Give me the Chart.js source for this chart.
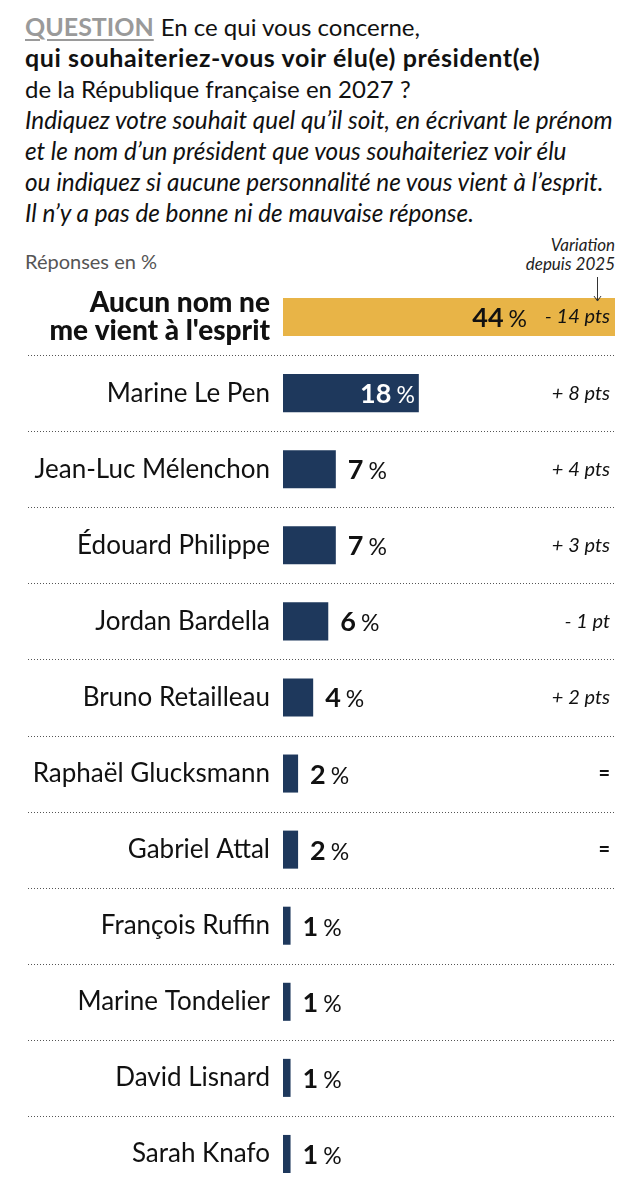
<!DOCTYPE html>
<html lang="fr">
<head>
<meta charset="utf-8">
<script src="https://cdn.jsdelivr.net/npm/chart.js@4.4.1/dist/chart.umd.min.js"></script>
<style>
  html, body { margin: 0; padding: 0; background: #fff; }
  body { width: 633px; height: 1200px; position: relative; overflow: hidden; font-family: Lato, "Noto Sans", sans-serif; color: #111; }
  #title { position: absolute; left: 25px; top: 11px; font-size: 24px; line-height: 31px; white-space: nowrap; }
  #title .q { color: #9a9a9a; font-weight: bold; font-size: 25px; text-decoration: underline; text-decoration-thickness: 2px; text-underline-offset: 3px; margin-right: 7px; }
  #title .b { font-weight: bold; font-size: 25px; letter-spacing: 0.6px; }
  #title .i { font-style: italic; font-size: 24.3px; }
  #unit { position: absolute; left: 25px; top: 248px; font-size: 20px; line-height: 26px; color: #555; }
  #varhead { position: absolute; right: 18px; top: 235px; font-size: 17px; font-style: italic; text-align: right; line-height: 19px; color: #222; }
  #wrap { position: absolute; left: 0; top: 230px; width: 633px; height: 970px; }
</style>
</head>
<body>
<div id="title">
  <div><span class="q">QUESTION</span>En ce qui vous concerne,</div>
  <div class="b">qui souhaiteriez-vous voir élu(e) président(e)</div>
  <div>de la République française en 2027 ?</div>
  <div class="i">Indiquez votre souhait quel qu’il soit, en écrivant le prénom</div>
  <div class="i">et le nom d’un président que vous souhaiteriez voir élu</div>
  <div class="i">ou indiquez si aucune personnalité ne vous vient à l’esprit.</div>
  <div class="i">Il n’y a pas de bonne ni de mauvaise réponse.</div>
</div>
<div id="unit">Réponses en %</div>
<div id="varhead">Variation<br>depuis 2025</div>
<div id="wrap"><canvas id="c"></canvas></div>
<script>
const categories = [
  ['Aucun nom ne', "me vient à l'esprit"],
  'Marine Le Pen',
  'Jean-Luc Mélenchon',
  'Édouard Philippe',
  'Jordan Bardella',
  'Bruno Retailleau',
  'Raphaël Glucksmann',
  'Gabriel Attal',
  'François Ruffin',
  'Marine Tondelier',
  'David Lisnard',
  'Sarah Knafo'
];
const values = [44, 18, 7, 7, 6, 4, 2, 2, 1, 1, 1, 1];
const variations = ['- 14 pts', '+ 8 pts', '+ 4 pts', '+ 3 pts', '- 1 pt', '+ 2 pts', '=', '=', '', '', '', ''];
const xMin = 0;
const xMax = 44;

const FONT = 'Lato, "Noto Sans", sans-serif';
const YELLOW = '#E8B447';
const NAVY = '#1E385C';

const overlay = {
  id: 'overlay',
  beforeDatasetsDraw(chart) {
    const ctx = chart.ctx;
    const y = chart.scales.y;
    const area = chart.chartArea;
    ctx.save();
    ctx.strokeStyle = '#555';
    ctx.lineWidth = 1;
    ctx.setLineDash([1, 2]);
    for (let i = 0; i < categories.length - 1; i++) {
      const py = Math.round((y.getPixelForValue(i) + y.getPixelForValue(i + 1)) / 2) + 0.5;
      ctx.beginPath();
      ctx.moveTo(28, py);
      ctx.lineTo(area.right, py);
      ctx.stroke();
    }
    ctx.restore();
  },
  afterDatasetsDraw(chart) {
    const ctx = chart.ctx;
    const meta = chart.getDatasetMeta(0);
    const area = chart.chartArea;
    ctx.save();
    meta.data.forEach((bar, i) => {
      const num = String(values[i]);
      const big = 27;
      ctx.font = 'bold ' + big + 'px ' + FONT;
      const wn = ctx.measureText(num).width;
      ctx.font = '23px ' + FONT;
      const wp = ctx.measureText('%').width;
      const gap = 5;
      const total = wn + gap + wp;
      let x0, color = '#111';
      if (i === 0) { x0 = bar.x - 88 - total; }
      else if (i === 1) { x0 = bar.x - 4 - total; color = '#fff'; }
      else { x0 = bar.x + 12; }
      const base = bar.y + 10;
      ctx.fillStyle = color;
      ctx.textAlign = 'left';
      ctx.textBaseline = 'alphabetic';
      ctx.font = 'bold ' + big + 'px ' + FONT;
      ctx.fillText(num, x0, base);
      ctx.font = '23px ' + FONT;
      ctx.fillText('%', x0 + wn + gap, base);
      if (variations[i]) {
        ctx.fillStyle = '#111';
        ctx.font = (variations[i] === '=' ? 'bold 20px ' : 'italic 20px ') + FONT;
        ctx.textAlign = 'right';
        ctx.textBaseline = 'middle';
        ctx.fillText(variations[i], area.right - 5, bar.y);
      }
    });
    const first = meta.data[0];
    const ax = area.right - 17.5;
    const topY = first.y - first.height / 2;
    ctx.strokeStyle = '#333';
    ctx.lineWidth = 1;
    ctx.beginPath();
    ctx.moveTo(ax, area.top - 2);
    ctx.lineTo(ax, topY + 3);
    ctx.moveTo(ax - 3.5, topY - 2);
    ctx.lineTo(ax, topY + 3);
    ctx.lineTo(ax + 3.5, topY - 2);
    ctx.stroke();
    ctx.restore();
  }
};

new Chart(document.getElementById('c'), {
  type: 'bar',
  data: {
    labels: categories,
    datasets: [{
      data: values,
      backgroundColor: (c) => c.dataIndex === 0 ? YELLOW : NAVY,
      borderWidth: 0,
      barPercentage: 0.5,
      categoryPercentage: 1
    }]
  },
  options: {
    indexAxis: 'y',
    responsive: true,
    maintainAspectRatio: false,
    devicePixelRatio: 1,
    animation: false,
    layout: { padding: { top: 49, right: 18, bottom: 8, left: 0 } },
    plugins: { legend: { display: false }, tooltip: { enabled: false } },
    scales: {
      x: { display: false, min: xMin, max: xMax },
      y: {
        grid: { display: false, drawTicks: false },
        border: { display: false },
        afterFit: (s) => { s.width = 283; s.paddingTop = 0; s.paddingBottom = 0; },
        ticks: {
          autoSkip: false,
          padding: 13,
          color: '#111',
          font: (c) => c.index === 0
            ? { family: FONT, size: 28, weight: 900, lineHeight: 1.0 }
            : { family: FONT, size: 26 }
        }
      }
    }
  },
  plugins: [overlay]
});
</script>
</body>
</html>
